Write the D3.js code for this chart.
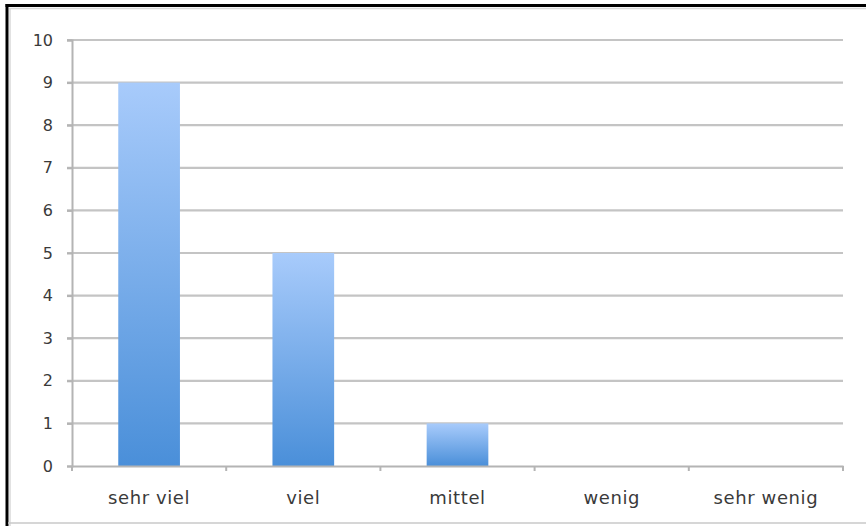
<!DOCTYPE html>
<html>
<head>
<meta charset="utf-8">
<script src="https://cdn.jsdelivr.net/npm/d3@7"></script>
<style>
  html, body { margin: 0; padding: 0; background: #fff; }
  svg { display: block; }
  text { font-family: "DejaVu Sans", sans-serif; fill: #3a3a3a; }
</style>
</head>
<body>
<div id="chart"></div>
<script>
const categories = ["sehr viel", "viel", "mittel", "wenig", "sehr wenig"];
const values = [9, 5, 1, 0, 0];
const yTicks = [0, 1, 2, 3, 4, 5, 6, 7, 8, 9, 10];

const W = 866, H = 526;
const margin = { left: 72, right: 23, top: 40, bottom: 60 };

const svg = d3.select("#chart").append("svg")
  .attr("width", W).attr("height", H);

const defs = svg.append("defs");
const grad = defs.append("linearGradient")
  .attr("id", "barGrad").attr("x1", 0).attr("y1", 0).attr("x2", 0).attr("y2", 1);
grad.append("stop").attr("offset", "0%").attr("stop-color", "#a8cbfb");
grad.append("stop").attr("offset", "100%").attr("stop-color", "#4a8fd9");

// frame
svg.append("line").attr("x1", 7).attr("x2", 7).attr("y1", 4).attr("y2", H)
  .attr("stroke", "#000").attr("stroke-width", 3);
svg.append("line").attr("x1", 5.5).attr("x2", W).attr("y1", 5.5).attr("y2", 5.5)
  .attr("stroke", "#000").attr("stroke-width", 3);
svg.append("line").attr("x1", 10).attr("x2", 10).attr("y1", 8).attr("y2", H)
  .attr("stroke", "#d8d8d8").attr("stroke-width", 1.5);
svg.append("line").attr("x1", 9).attr("x2", W).attr("y1", 8.5).attr("y2", 8.5)
  .attr("stroke", "#d8d8d8").attr("stroke-width", 1.5);
svg.append("line").attr("x1", 8).attr("x2", W).attr("y1", 523).attr("y2", 523)
  .attr("stroke", "#c8c8c8").attr("stroke-width", 1.5);

const x = d3.scaleBand().domain(categories)
  .range([margin.left, W - margin.right]).paddingInner(0.6).paddingOuter(0.3);
const y = d3.scaleLinear().domain([0, 10]).range([H - margin.bottom, margin.top]);

// grid
svg.append("g").selectAll("line").data(yTicks.filter(d => d > 0)).join("line")
  .attr("x1", margin.left - 5).attr("x2", W - margin.right)
  .attr("y1", d => y(d)).attr("y2", d => y(d))
  .attr("stroke", "#c4c4c4").attr("stroke-width", 2.2);

// bars
svg.append("g").selectAll("rect").data(values).join("rect")
  .attr("x", (d, i) => x(categories[i]))
  .attr("width", x.bandwidth())
  .attr("y", d => y(d))
  .attr("height", d => y(0) - y(d))
  .attr("fill", "url(#barGrad)");

// y axis
const yAxis = d3.axisLeft(y).tickValues(yTicks).tickSize(5).tickPadding(14);
const gy = svg.append("g").attr("transform", `translate(${margin.left},0)`).call(yAxis);
gy.select(".domain").attr("stroke", "#b4b4b4").attr("stroke-width", 2);
gy.selectAll(".tick line").attr("stroke", "#b4b4b4").attr("stroke-width", 2);
gy.selectAll(".tick text").style("font-size", "16px").style("font-family", "DejaVu Sans").attr("fill", "#333");

// x axis
const step = x.step();
const xAxis = d3.axisBottom(x).tickSize(0).tickPadding(25);
const gx = svg.append("g").attr("transform", `translate(0,${y(0)})`).call(xAxis);
gx.select(".domain").attr("stroke", "#b4b4b4").attr("stroke-width", 2);
gx.selectAll(".tick text").style("font-size", "18px").style("letter-spacing", "0.6px")
  .style("font-family", "DejaVu Sans").attr("fill", "#3a3a3a");
// boundary ticks
const bounds = d3.range(categories.length + 1).map(i => margin.left + i * step);
gx.append("g").selectAll("line").data(bounds).join("line")
  .attr("x1", d => d).attr("x2", d => d).attr("y1", 0).attr("y2", 5)
  .attr("stroke", "#b4b4b4").attr("stroke-width", 2);
</script>
</body>
</html>
